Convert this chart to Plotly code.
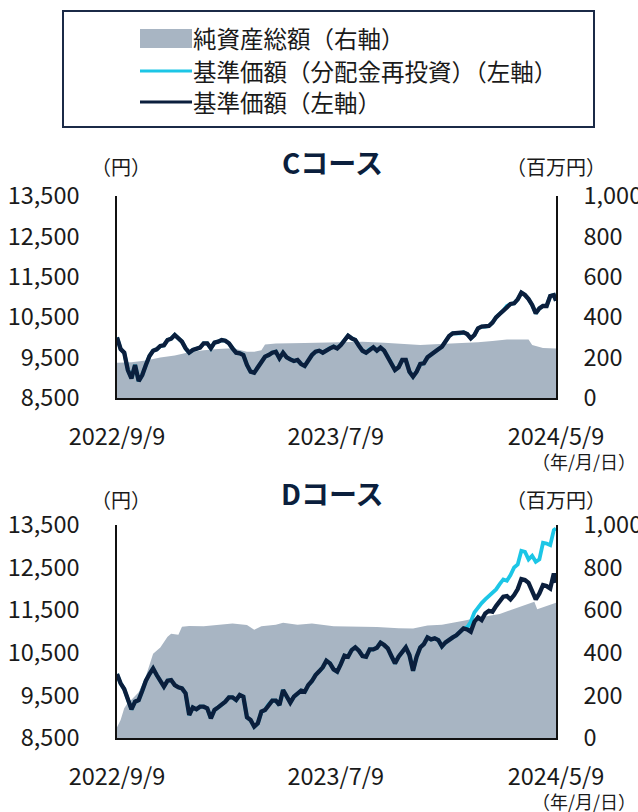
import plotly.graph_objects as go

# ---------------- data ----------------
dates = [
    "2022-09-09", "2022-09-14", "2022-09-19", "2022-09-24", "2022-09-29", "2022-10-04",
    "2022-10-09", "2022-10-14", "2022-10-19", "2022-10-24", "2022-10-29", "2022-11-03",
    "2022-11-08", "2022-11-13", "2022-11-18", "2022-11-23", "2022-11-28", "2022-12-03",
    "2022-12-08", "2022-12-13", "2022-12-18", "2022-12-23", "2022-12-28", "2023-01-02",
    "2023-01-07", "2023-01-12", "2023-01-17", "2023-01-22", "2023-01-27", "2023-02-01",
    "2023-02-06", "2023-02-11", "2023-02-16", "2023-02-21", "2023-02-26", "2023-03-03",
    "2023-03-08", "2023-03-13", "2023-03-18", "2023-03-23", "2023-03-28", "2023-04-02",
    "2023-04-07", "2023-04-12", "2023-04-17", "2023-04-22", "2023-04-27", "2023-05-02",
    "2023-05-07", "2023-05-12", "2023-05-17", "2023-05-22", "2023-05-27", "2023-06-01",
    "2023-06-06", "2023-06-11", "2023-06-16", "2023-06-21", "2023-06-26", "2023-07-01",
    "2023-07-06", "2023-07-11", "2023-07-16", "2023-07-21", "2023-07-26", "2023-07-31",
    "2023-08-05", "2023-08-10", "2023-08-15", "2023-08-20", "2023-08-25", "2023-08-30",
    "2023-09-04", "2023-09-09", "2023-09-14", "2023-09-19", "2023-09-24", "2023-09-29",
    "2023-10-04", "2023-10-09", "2023-10-14", "2023-10-19", "2023-10-24", "2023-10-29",
    "2023-11-03", "2023-11-08", "2023-11-13", "2023-11-18", "2023-11-23", "2023-11-28",
    "2023-12-03", "2023-12-08", "2023-12-13", "2023-12-18", "2023-12-23", "2023-12-28",
    "2024-01-02", "2024-01-07", "2024-01-12", "2024-01-17", "2024-01-22", "2024-01-27",
    "2024-02-01", "2024-02-06", "2024-02-11", "2024-02-16", "2024-02-21", "2024-02-26",
    "2024-03-02", "2024-03-07", "2024-03-12", "2024-03-17", "2024-03-22", "2024-03-27",
    "2024-04-01", "2024-04-06", "2024-04-11", "2024-04-16", "2024-04-21", "2024-04-26",
    "2024-05-01", "2024-05-06", "2024-05-09",
]

# C course - NAV per unit (yen)
c_nav = [
    10000, 9713, 9622, 9193, 8987, 9317, 8920, 9069, 9317, 9540, 9670, 9705,
    9787, 9804, 9935, 9969, 10060, 9977, 9895, 9730, 9622, 9688, 9730, 9746,
    9853, 9853, 9730, 9870, 9895, 9935, 9919, 9853, 9730, 9622, 9605, 9564,
    9317, 9152, 9127, 9259, 9400, 9523, 9564, 9622, 9647, 9482, 9622, 9507,
    9457, 9416, 9440, 9341, 9292, 9440, 9564, 9647, 9670, 9622, 9688, 9730,
    9770, 9729, 9812, 9935, 10043, 9977, 9935, 9795, 9670, 9622, 9705, 9754,
    9670, 9746, 9670, 9523, 9358, 9193, 9260, 9440, 9440, 9152, 9028, 9152,
    9342, 9358, 9507, 9564, 9622, 9705, 9770, 9894, 10035, 10100, 10100, 10100,
    10125, 10084, 9977, 10059, 10224, 10266, 10265, 10282, 10365, 10497, 10580, 10662,
    10777, 10827, 10843, 10942, 11107, 11049, 10950, 10802, 10596, 10719, 10777, 10777,
    11025, 11049, 10909,
]
c_nav_reinv = c_nav  # no distributions: identical to the NAV line

# C course - total net assets (million yen)
c_aum_dates = [
    "2022-09-09", "2022-09-29", "2022-10-19", "2022-11-08", "2022-11-28", "2022-12-18",
    "2023-01-07", "2023-01-27", "2023-02-16", "2023-02-26", "2023-03-08", "2023-03-18",
    "2023-03-28", "2023-04-02", "2023-04-17", "2023-05-27", "2023-07-06", "2023-08-15",
    "2023-09-14", "2023-10-14", "2023-11-03", "2023-11-23", "2024-01-02", "2024-01-22",
    "2024-02-11", "2024-03-02", "2024-04-01", "2024-04-06", "2024-04-21", "2024-05-09",
]
c_aum = [
    175, 177, 186, 200, 210, 226,
    236, 243, 246, 236, 229, 229,
    236, 265, 270, 272, 276, 279,
    274, 267, 262, 266, 272, 276,
    282, 290, 290, 262, 248, 245,
]

# D course - NAV per unit (yen)
d_nav = [
    10000, 9782, 9650, 9431, 9173, 9352, 9391, 9610, 9845, 10001, 10134, 9978,
    9822, 9704, 9845, 9861, 9743, 9689, 9665, 9548, 9040, 9219, 9173, 9235,
    9235, 9196, 8961, 9157, 9219, 9274, 9352, 9454, 9454, 9391, 9509, 9470,
    8985, 8922, 8766, 8844, 9118, 9157, 9290, 9376, 9376, 9274, 9626, 9470,
    9329, 9470, 9548, 9610, 9587, 9743, 9837, 9978, 10064, 10158, 10314, 10252,
    10111, 10056, 10236, 10432, 10408, 10564, 10627, 10549, 10424, 10408, 10580, 10580,
    10619, 10737, 10682, 10604, 10424, 10252, 10408, 10502, 10627, 10447, 10080, 10408,
    10627, 10705, 10862, 10815, 10838, 10799, 10650, 10744, 10815, 10862, 10909, 10995,
    11073, 11049, 10995, 11229, 11331, 11268, 11425, 11487, 11464, 11597, 11722, 11816,
    11831, 11753, 11855, 11996, 12230, 12207, 12144, 11933, 11753, 11894, 12089, 12066,
    12011, 12363, 12144,
]
# D course - NAV with distributions reinvested (yen): same as NAV until 2024-01-02
d_nav_reinv = d_nav[:97] + [
    11100, 11229, 11448, 11565, 11667, 11753, 11839, 11933, 11988, 12113, 12222,
    12191, 12324, 12504, 12574, 12895, 12871, 12692, 12778, 12637, 12692, 13083, 13067,
    13028, 13380, 13419,
]

# D course - total net assets (million yen)
d_aum_dates = [
    "2022-09-09", "2022-09-14", "2022-09-19", "2022-09-24", "2022-09-29", "2022-10-09",
    "2022-10-19", "2022-10-24", "2022-10-29", "2022-11-08", "2022-11-18", "2022-11-23",
    "2022-12-03", "2022-12-08", "2022-12-18", "2023-01-07", "2023-01-27", "2023-02-16",
    "2023-03-08", "2023-03-18", "2023-03-28", "2023-04-17", "2023-04-27", "2023-05-17",
    "2023-06-06", "2023-06-26", "2023-07-06", "2023-07-26", "2023-09-04", "2023-10-04",
    "2023-10-24", "2023-11-13", "2023-12-03", "2024-01-02", "2024-01-22", "2024-02-21",
    "2024-03-12", "2024-04-01", "2024-04-09", "2024-04-13", "2024-04-21", "2024-05-09",
]
d_aum = [
    50, 85, 140, 165, 180, 215,
    290, 340, 395, 425, 475, 490,
    485, 522, 526, 525, 532, 537,
    530, 508, 525, 532, 541, 532,
    538, 530, 525, 523, 521, 515,
    514, 528, 532, 550, 565, 582,
    605, 628, 640, 605, 615, 635,
]

left_ticks = [8500, 9500, 10500, 11500, 12500, 13500]
right_ticks = [0, 200, 400, 600, 800, 1000]
x_ticks = ["2022-09-09", "2023-07-09", "2024-05-09"]
x_tick_text = ["2022/9/9", "2023/7/9", "2024/5/9"]

legend_names = ["純資産総額（右軸）", "基準価額（分配金再投資）（左軸）", "基準価額（左軸）"]
panel_titles = ["Cコース", "Dコース"]

# ---------------- style ----------------
W, H = 638, 812
FONT = "Noto Sans CJK JP"
NAVY = "#0b1f3d"
CYAN = "#1cc6e6"
AREA = "#a8b5c3"
TXT = "#1a1a1a"


def px_x(v):
    return v / W


def px_y(v):
    return 1 - v / H


fig = go.Figure()

# each panel: area on the base (right) axis, lines on the overlaying (left) axis
panels = [
    # (x axis, right y (base), left y (overlay), aum dates, aum, reinv, nav, top px, bottom px)
    ("x", "y", "y2", c_aum_dates, c_aum, c_nav_reinv, c_nav, 196, 398),
    ("x2", "y3", "y4", d_aum_dates, d_aum, d_nav_reinv, d_nav, 525, 738),
]

for xa, yr, yl, adates, aum, reinv, nav, top, bot in panels:
    fig.add_trace(go.Scatter(
        x=adates, y=aum, xaxis=xa, yaxis=yr, mode="lines",
        line=dict(width=0, color=AREA), fill="tozeroy", fillcolor=AREA,
        name=legend_names[0], showlegend=False, hoverinfo="skip"))
    fig.add_trace(go.Scatter(
        x=dates, y=reinv, xaxis=xa, yaxis=yl, mode="lines",
        line=dict(width=3.8, color=CYAN), name=legend_names[1], showlegend=False))
    fig.add_trace(go.Scatter(
        x=dates, y=nav, xaxis=xa, yaxis=yl, mode="lines",
        line=dict(width=4.3, color=NAVY), name=legend_names[2], showlegend=False))

x_dom = [px_x(117), px_x(556)]
tickfont = dict(family=FONT, size=23.5, color=TXT)

layout = dict(
    width=W, height=H,
    margin=dict(l=0, r=0, t=0, b=0, autoexpand=False),
    paper_bgcolor="white", plot_bgcolor="white",
    font=dict(family=FONT, color=TXT),
    showlegend=False,
)


def akey(prefix, name):
    return prefix + ("" if len(name) == 1 else name[1:])


for xa, yr, yl, adates, aum, reinv, nav, top, bot in panels:
    ydom = [px_y(bot), px_y(top)]
    layout[akey("xaxis", xa)] = dict(
        domain=x_dom, anchor=yr, type="date", automargin=False,
        range=["2022-09-09", "2024-05-09"],
        tickvals=x_ticks, ticktext=x_tick_text, tickfont=tickfont,
        showgrid=False, zeroline=False, showline=True, linecolor="#111111", linewidth=2.4,
        ticks="", ticklabelstandoff=17,
    )
    layout[akey("yaxis", yr)] = dict(
        domain=ydom, anchor=xa, side="right", range=[0, 1000], automargin=False,
        tickvals=right_ticks, tickformat=",", tickfont=tickfont, showgrid=False,
        zeroline=False, showline=True, linecolor="#111111", linewidth=1.6, ticks="",
        ticklabelstandoff=21,
    )
    layout[akey("yaxis", yl)] = dict(
        domain=ydom, anchor=xa, overlaying=yr, side="left", range=[8500, 13500],
        automargin=False, tickvals=left_ticks,
        tickformat=",", tickfont=tickfont, showgrid=False, zeroline=False,
        showline=True, linecolor="#111111", linewidth=1.6, ticks="", ticklabelstandoff=31,
    )

fig.update_layout(**layout)

annotations = []
shapes = []

title_y = [162, 493]
unit_y = [166, 499]
for i, (xa, yr, yl, adates, aum, reinv, nav, top, bot) in enumerate(panels):
    annotations.append(dict(text=panel_titles[i], x=px_x(332), y=px_y(title_y[i]), xref="paper", yref="paper",
                            showarrow=False, font=dict(family=FONT, size=28, color=NAVY, weight="bold"),
                            xanchor="center", yanchor="middle"))
    annotations.append(dict(text="（円）", x=px_x(121), y=px_y(unit_y[i]), xref="paper", yref="paper",
                            showarrow=False, font=dict(family=FONT, size=20, color=TXT),
                            xanchor="center", yanchor="middle"))
    annotations.append(dict(text="（百万円）", x=px_x(556), y=px_y(unit_y[i]), xref="paper", yref="paper",
                            showarrow=False, font=dict(family=FONT, size=20, color=TXT),
                            xanchor="center", yanchor="middle"))
    annotations.append(dict(text="（年/月/日）", x=px_x(637), y=px_y(bot + 63), xref="paper", yref="paper",
                            showarrow=False, font=dict(family=FONT, size=18, color=TXT),
                            xanchor="right", yanchor="middle", borderpad=0))

# legend (drawn as a framed key)
shapes.append(dict(type="rect", xref="paper", yref="paper", x0=px_x(63), x1=px_x(594),
                   y0=px_y(127), y1=px_y(11), line=dict(color="#1b2a47", width=2), fillcolor="white"))
shapes.append(dict(type="rect", xref="paper", yref="paper", x0=px_x(140), x1=px_x(192),
                   y0=px_y(48), y1=px_y(29), line=dict(width=0), fillcolor=AREA))
shapes.append(dict(type="line", xref="paper", yref="paper", x0=px_x(140), x1=px_x(192),
                   y0=px_y(71), y1=px_y(71), line=dict(color=CYAN, width=3)))
shapes.append(dict(type="line", xref="paper", yref="paper", x0=px_x(140), x1=px_x(192),
                   y0=px_y(102), y1=px_y(102), line=dict(color=NAVY, width=3)))
for name, yy in zip(legend_names, [38, 71, 102]):
    annotations.append(dict(text=name, x=px_x(191), y=px_y(yy), xref="paper", yref="paper",
                            showarrow=False, font=dict(family=FONT, size=23.5, color=TXT),
                            xanchor="left", yanchor="middle"))

fig.update_layout(annotations=annotations, shapes=shapes)

fig.write_html("out.html", config={"displayModeBar": False},
               post_script="document.body.style.margin='0px';")
